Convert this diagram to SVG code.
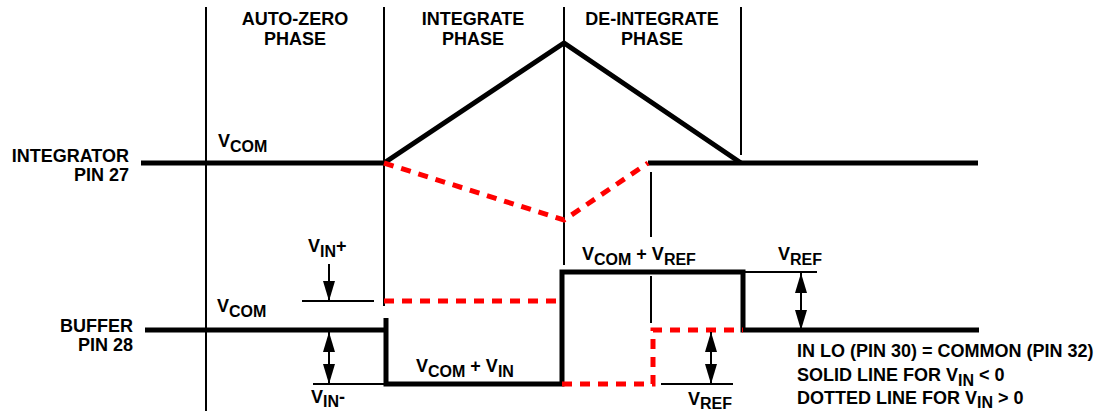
<svg xmlns="http://www.w3.org/2000/svg" width="1108" height="413" viewBox="0 0 1108 413">
<style>
text{font-family:"Liberation Sans",Arial,sans-serif;font-weight:bold;font-size:18px;fill:#000}
.sub{font-size:16px}
.thin{stroke:#000;stroke-width:2;fill:none}
.thick{stroke:#000;stroke-width:5;fill:none;stroke-linejoin:miter}
.red{stroke:#ff0000;stroke-width:5;fill:none;stroke-dasharray:10 8}
.mid{text-anchor:middle}
.end{text-anchor:end}
</style>
<defs>
<marker id="ah" viewBox="0 0 20 12" refX="20" refY="6" markerWidth="20" markerHeight="12" markerUnits="userSpaceOnUse" orient="auto-start-reverse">
<path d="M0,0 L20,6 L0,12 Z" fill="#000"/>
</marker>
</defs>
<rect width="1108" height="413" fill="#fff"/>

<g id="phase-lines">
<line class="thin" x1="206" y1="7" x2="206" y2="411"/>
<line class="thin" x1="384" y1="7" x2="384" y2="306"/>
<line class="thin" x1="564" y1="7" x2="564" y2="265"/>
<line class="thin" x1="741" y1="7" x2="741" y2="155"/>
<line class="thin" x1="651" y1="172" x2="651" y2="237"/>
<line class="thin" x1="651" y1="276" x2="651" y2="323"/>
</g>

<g id="phase-labels">
<text class="mid" x="295" y="25">AUTO-ZERO</text>
<text class="mid" x="295" y="45">PHASE</text>
<text class="mid" x="473" y="25">INTEGRATE</text>
<text class="mid" x="473" y="45">PHASE</text>
<text class="mid" x="652" y="25">DE-INTEGRATE</text>
<text class="mid" x="652" y="45">PHASE</text>
</g>

<g id="integrator">
<text class="end" x="129" y="162">INTEGRATOR</text>
<text class="end" x="129" y="181">PIN 27</text>
<polyline class="thick" points="141,163 384,163 564,43 741,163"/>
<line class="thick" x1="648" y1="163" x2="978" y2="163"/>
<polyline class="red" points="384,163 564,220 648,163"/>
<text x="218" y="147">V<tspan class="sub" dy="5">COM</tspan></text>
</g>

<g id="buffer">
<text class="end" x="133" y="332">BUFFER</text>
<text class="end" x="133" y="351">PIN 28</text>
<polyline class="thick" points="145,330 386,330"/>
<polyline class="thick" points="386,318 386,384 562,384 562,272 743,272 743,330 979,330"/>
<line class="red" x1="384" y1="301" x2="562" y2="301"/>
<polyline class="red" points="562,384 653,384 653,330 743,330"/>
<text x="217" y="312">V<tspan class="sub" dy="5">COM</tspan></text>
<text x="416" y="372">V<tspan class="sub" dy="5">COM</tspan><tspan dy="-5"> + V</tspan><tspan class="sub" dy="5">IN</tspan></text>
<text x="582" y="260">V<tspan class="sub" dy="5">COM</tspan><tspan dy="-5"> + V</tspan><tspan class="sub" dy="5">REF</tspan></text>
</g>

<g id="annotations">
<text x="308" y="252">V<tspan class="sub" dy="5">IN</tspan><tspan dy="-5">+</tspan></text>
<text x="311" y="403">V<tspan class="sub" dy="4">IN</tspan><tspan dy="-4">-</tspan></text>
<text x="778" y="260">V<tspan class="sub" dy="5">REF</tspan></text>
<text x="688" y="405">V<tspan class="sub" dy="4">REF</tspan></text>
<line class="thin" x1="302" y1="301" x2="374" y2="301"/>
<line class="thin" x1="313" y1="384" x2="384" y2="384"/>
<line class="thin" x1="745" y1="272" x2="817" y2="272"/>
<line class="thin" x1="661" y1="384" x2="733" y2="384"/>
</g>

<g id="connectors">
<line class="thin" x1="329" y1="264" x2="329" y2="301" marker-end="url(#ah)"/>
<line class="thin" x1="329" y1="332" x2="329" y2="384" marker-start="url(#ah)" marker-end="url(#ah)"/>
<line class="thin" x1="801" y1="273" x2="801" y2="330" marker-start="url(#ah)" marker-end="url(#ah)"/>
<line class="thin" x1="711" y1="332" x2="711" y2="384" marker-start="url(#ah)" marker-end="url(#ah)"/>
</g>

<g id="notes">
<text x="797" y="357">IN LO (PIN 30) = COMMON (PIN 32)</text>
<text x="797" y="381">SOLID LINE FOR V<tspan class="sub" dy="5">IN</tspan><tspan dy="-5"> &lt; 0</tspan></text>
<text x="797" y="404">DOTTED LINE FOR V<tspan class="sub" dy="4">IN</tspan><tspan dy="-4"> &gt; 0</tspan></text>
</g>
</svg>
